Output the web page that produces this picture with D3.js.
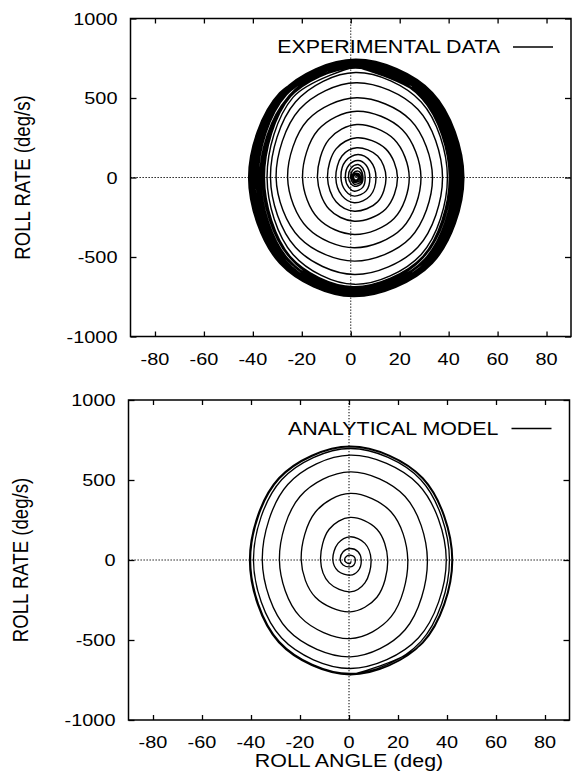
<!DOCTYPE html>
<html>
<head>
<meta charset="utf-8">
<script src="https://cdn.jsdelivr.net/npm/d3@7"></script>
<style>
  html, body { margin: 0; padding: 0; background: #fff; }
  svg { display: block; }
  text { font-family: "Liberation Sans", Arial, Helvetica, sans-serif; fill: #000; }
</style>
</head>
<body>
<svg id="chart" width="572" height="775"></svg>
<script>
// Axis setup
const angleDomain = [-90, 90];
const rateDomain = [-1000, 1000];
const angleTicks = [-80, -60, -40, -20, 0, 20, 40, 60, 80];
const rateTicks = [-1000, -500, 0, 500, 1000];
const yTitle = "ROLL RATE (deg/s)";
const xTitle = "ROLL ANGLE (deg)";
const legendExp = "EXPERIMENTAL DATA";
const legendModel = "ANALYTICAL MODEL";

// Experimental wing-rock build-up: [roll angle (deg), roll rate (deg/s)]
const expGrowth = [
  [2.0, 2],
  [2.4, 12], [2.9, 8], [3.0, 0], [2.8, -12], [2.0, -16], [1.4, -10], [1.2, 0], [1.5, 14],
  [2.4, 18], [3.2, 12], [3.5, 0], [3.1, -16], [1.8, -22], [1.1, -15], [0.9, 0], [1.3, 20],
  [3, 25], [3.6, 18], [4.0, 0], [3.6, -22], [1.5, -30], [1.1, -22], [0.5, 0], [1.1, 29],
  [3, 40], [4.0, 29], [4.6, 0], [4.0, -30], [1.5, -42], [0.7, -30], [0.0, 0], [0.7, 44],
  [3, 61], [4.3, 44], [5.0, 0], [4.3, -40], [1.5, -55], [0.1, -40], [-0.9, 0], [0.1, 59],
  [3, 82], [4.9, 59], [5.9, 0], [4.9, -62], [1.5, -86], [-0.8, -62], [-2.2, 0], [-0.8, 77],
  [3, 107], [6.3, 77], [7.8, 0], [6.3, -84], [1.5, -117], [-2.1, -84], [-4.0, 0], [-2.1, 104],
  [3, 145], [8.0, 104], [10.3, 0], [8.0, -114], [1.5, -159], [-3.6, -114], [-6.1, 0], [-3.6, 135],
  [2.5, 187], [11.0, 135], [14.4, 0], [11.0, -153], [1.5, -212], [-6.0, -153], [-9.5, 0], [-6.0, 180],
  [2.5, 250], [14.3, 180], [19.1, 0], [14.3, -198], [1.5, -275], [-8.9, -198], [-13.6, 0], [-8.9, 240],
  [2.5, 333], [17.7, 240], [23.9, 0], [17.7, -258], [1.5, -358], [-13.3, -258], [-19.7, 0], [-13.3, 300],
  [2.5, 417], [21.1, 300], [28.7, 0], [21.1, -318], [1.5, -442], [-17.6, -318], [-25.8, 0], [-17.6, 361],
  [2.5, 501], [24.4, 361], [33.4, 0], [24.4, -379], [1.5, -526], [-20.9, -379], [-30.5, 0], [-20.9, 429],
  [2.2, 596], [27.4, 429], [37.5, 0], [27.4, -439], [1.5, -610], [-22.6, -439], [-32.8, 0], [-22.6, 475],
  [2, 660], [28.8, 475], [39.5, 0], [28.8, -484], [1.5, -672], [-23.6, -484], [-34.2, 0], [-23.6, 504],
  [2, 700]
];

// Experimental limit-cycle oscillation (repeated overlapping cycles)
const expCycle = [
  [2, 700], [29.7, 504], [41, 0], [29.7, -497], [1, -690], [-25.0, -497], [-36, 0], [-25.0, 513],
  [2, 712], [31.1, 513], [43, 0], [31.1, -508], [1, -705], [-26.4, -508], [-38, 0], [-26.4, 522],
  [2, 725], [32.2, 522], [44.5, 0], [32.2, -518], [1, -720], [-27.8, -518], [-40, 0], [-27.8, 529],
  [2, 735], [32.9, 529], [45.5, 0], [32.9, -529], [1, -735], [-28.5, -529], [-41, 0], [-28.5, 518],
  [2, 720], [31.8, 518], [44, 0], [31.8, -533], [1, -740], [-27.5, -533], [-39.5, 0], [-27.5, 508],
  [2, 705], [30.4, 508], [42, 0], [30.4, -515], [1, -715], [-25.7, -515], [-37, 0], [-25.7, 498],
  [2, 692], [29.3, 498], [40.5, 0], [29.3, -504], [1, -700], [-24.6, -504], [-35.5, 0], [-24.6, 515],
  [2, 715], [31.5, 515], [43.5, 0], [31.5, -524], [1, -728], [-26.8, -524], [-38.5, 0], [-26.8, 526],
  [2, 730], [32.5, 526], [45, 0], [32.5, -534], [1, -742], [-28.2, -534], [-40.5, 0], [-28.2, 533],
  [2, 740], [33.2, 533], [46, 0], [33.2, -537], [1, -746], [-28.9, -537], [-41.5, 0], [-28.9, 530],
  [2, 736]
];

// Analytical model trajectory: [roll angle (deg), roll rate (deg/s)]
const modelSpiral = [
  [0.8, -8],
  [0.5, -22], [-1.1, -16], [-1.8, 0], [-1.1, 22], [0.5, 30], [2.0, 22], [2.6, 0], [2.0, -31],
  [0.5, -43], [-2.4, -31], [-3.6, 0], [-2.4, 52], [0.5, 72], [3.7, 52], [5.0, 0], [3.7, -68],
  [0.5, -95], [-4.5, -68], [-6.6, 0], [-4.5, 104], [0.5, 145], [6.5, 104], [9.0, 0], [6.5, -143],
  [0.5, -199], [-8.1, -143], [-11.6, 0], [-8.1, 192], [0.5, 266], [11.4, 192], [15.8, 0], [11.4, -233],
  [0.5, -324], [-13.7, -233], [-19.5, 0], [-13.7, 300], [0.5, 416], [17.2, 300], [24.0, 0], [17.2, -354],
  [0.5, -491], [-20.0, -354], [-28.4, 0], [-20.0, 397], [0.5, 551], [22.9, 397], [32.0, 0], [22.9, -436],
  [0.5, -605], [-25.0, -436], [-35.4, 0], [-25.0, 472], [0.5, 655], [28.3, 472], [39.7, 0], [28.3, -488],
  [0.5, -678], [-27.5, -488], [-39.0, 0], [-27.5, 502], [0.5, 697], [29.3, 502], [41.0, 0], [29.3, -510],
  [0.5, -709], [-28.4, -510], [-40.2, 0], [-28.4, 509], [0.5, 707], [30.0, 509], [42.0, 0], [30.0, -515],
  [0.5, -715], [-28.6, -515], [-40.5, 0], [-28.6, 511], [0.5, 710], [30.1, 511], [42.2, 0], [30.1, -517],
  [0.5, -717], [-28.7, -516], [-40.6, 0], [-28.7, 512], [0.5, 711], [30.2, 512], [42.3, 0], [30.2, -518],
  [0.5, -719]
];

const svg = d3.select("#chart");
const TEXT_STRETCH = 1.17;   // wide lettering of the plot annotations

function label(g, str, x, y, size, anchor, rotate) {
  return g.append("text")
    .attr("transform", `translate(${x},${y}) scale(${TEXT_STRETCH},1)` + (rotate ? ` rotate(${rotate})` : ""))
    .attr("text-anchor", anchor)
    .style("font-size", size + "px")
    .text(str);
}

function drawPanel(box, series, legendText, opts) {
  const x = d3.scaleLinear().domain(angleDomain).range([box.left, box.right]);
  const y = d3.scaleLinear().domain(rateDomain).range([box.bottom, box.top]);
  const g = svg.append("g");

  // zero reference lines
  g.append("line")
    .attr("x1", box.left).attr("x2", box.right)
    .attr("y1", y(0)).attr("y2", y(0))
    .attr("stroke", "#000").attr("stroke-width", 1)
    .attr("stroke-dasharray", "1.3,1.7");
  g.append("line")
    .attr("x1", x(0)).attr("x2", x(0))
    .attr("y1", box.top).attr("y2", box.bottom)
    .attr("stroke", "#000").attr("stroke-width", 1)
    .attr("stroke-dasharray", "1.3,1.7");

  // trajectories
  const line = d3.line()
    .x(d => x(d[0]))
    .y(d => y(d[1]))
    .curve(d3.curveCatmullRom.alpha(0.5));
  series.forEach(s => {
    g.append("path")
      .attr("d", line(s.data))
      .attr("fill", "none")
      .attr("stroke", "#000")
      .attr("stroke-width", s.width)
      .attr("stroke-linejoin", "round");
  });

  // frame
  g.append("rect")
    .attr("x", box.left).attr("y", box.top)
    .attr("width", box.right - box.left).attr("height", box.bottom - box.top)
    .attr("fill", "none").attr("stroke", "#000").attr("stroke-width", 1.5);

  // inward ticks on all four sides
  const bottomAxis = d3.axisBottom(x).tickValues(angleTicks).tickSize(-5).tickFormat("");
  const topAxis = d3.axisTop(x).tickValues(angleTicks).tickSize(-5).tickFormat("");
  const leftAxis = d3.axisLeft(y).tickValues(rateTicks).tickSize(-6).tickFormat("");
  const rightAxis = d3.axisRight(y).tickValues(rateTicks).tickSize(-6).tickFormat("");
  [[bottomAxis, `translate(0,${box.bottom})`], [topAxis, `translate(0,${box.top})`],
   [leftAxis, `translate(${box.left},0)`], [rightAxis, `translate(${box.right},0)`]].forEach(([ax, tr]) => {
    const a = g.append("g").attr("transform", tr).call(ax);
    a.select(".domain").remove();
    a.selectAll(".tick line").attr("stroke", "#000").attr("stroke-width", 1.3);
  });

  // tick labels
  rateTicks.forEach(v => label(g, String(v), box.left - 13, y(v) + 6.2, 17, "end"));
  angleTicks.forEach(v => label(g, String(v), x(v), box.bottom + 28, 17, "middle"));

  // y title
  label(g, yTitle, opts.yTitleX, (box.top + box.bottom) / 2, 18.6, "middle", -90);

  // legend
  label(g, legendText, box.right - 71, box.top + 34.5, 18.3, "end");
  g.append("line")
    .attr("x1", box.right - 58).attr("x2", box.right - 18)
    .attr("y1", box.top + 28.5).attr("y2", box.top + 28.5)
    .attr("stroke", "#000").attr("stroke-width", 1.3);

  return { x, y, g };
}

drawPanel({ left: 130.5, right: 571, top: 18.5, bottom: 336.5 },
  [{ data: expGrowth, width: 1.45 }, { data: expCycle, width: 2.5 }],
  legendExp, { yTitleX: 29.5 });

const bottomPanel = drawPanel({ left: 128.5, right: 569.5, top: 400, bottom: 720 },
  [{ data: modelSpiral, width: 1.35 }],
  legendModel, { yTitleX: 27.5 });

// x title under the lower panel
label(svg, xTitle, bottomPanel.x(0), 767, 18.3, "middle");
</script>
</body>
</html>
